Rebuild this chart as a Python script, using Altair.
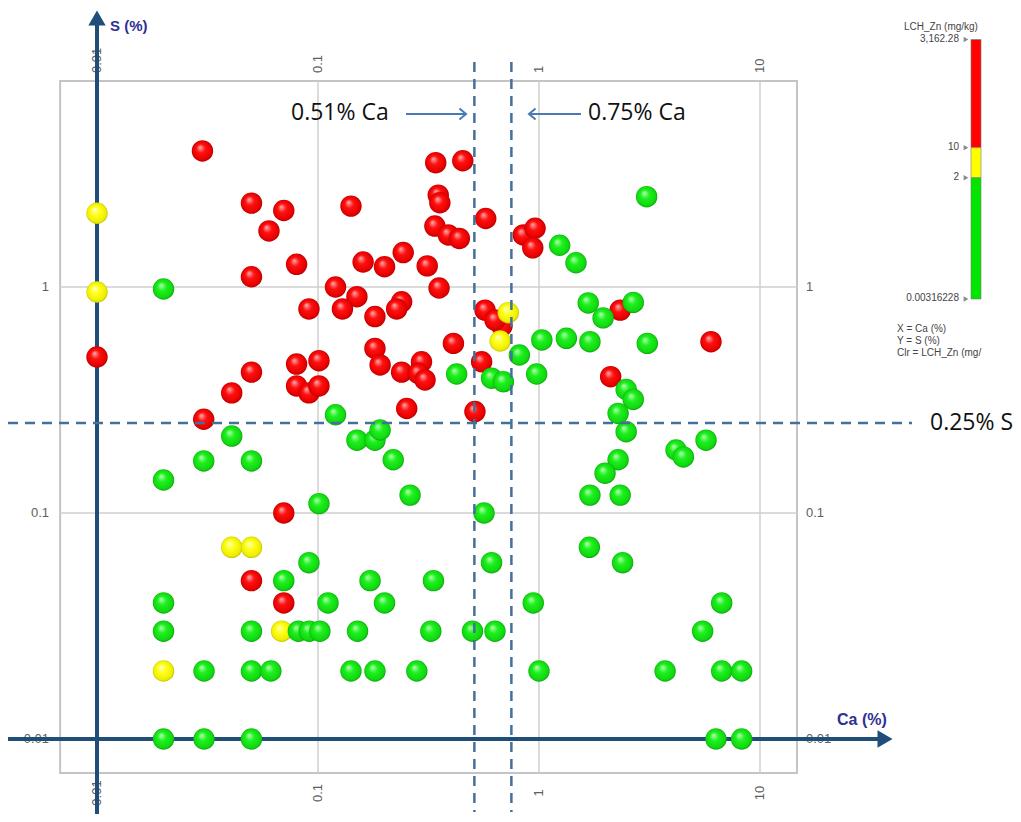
import altair as alt
import pandas as pd

# ---------------- data (Ca %, S %) by LCH_Zn class ----------------
RED_CA = [0.030, 0.050, 0.070, 0.060, 0.141, 0.080, 0.050, 0.160, 0.200, 0.243,
          0.312, 0.120, 0.150, 0.129, 0.091, 0.181, 0.239, 0.227, 0.341, 0.452,
          0.350, 0.356, 0.574, 0.338, 0.389, 0.436, 0.353, 0.849, 0.960, 0.937,
          0.570, 0.680, 0.632, 2.33, 0.410, 0.550, 6.0, 2.11, 0.513, 0.010,
          0.050, 0.0407, 0.0304, 0.070, 0.080, 0.101, 0.080, 0.091, 0.101, 0.181,
          0.191, 0.239, 0.294, 0.284, 0.305, 0.252, 0.050, 0.070]
RED_S = [4.0, 2.35, 2.18, 1.77, 2.28, 1.26, 1.11, 1.29, 1.23, 1.42,
         1.24, 1.00, 0.906, 0.80, 0.80, 0.74, 0.86, 0.80, 3.55, 3.62,
         2.55, 2.36, 2.01, 1.86, 1.70, 1.64, 0.99, 1.70, 1.82, 1.49,
         0.79, 0.672, 0.714, 0.79, 0.563, 0.467, 0.573, 0.401, 0.281, 0.49,
         0.42, 0.34, 0.26, 0.10, 0.456, 0.472, 0.365, 0.34, 0.365, 0.535,
         0.452, 0.42, 0.467, 0.415, 0.388, 0.29, 0.0502, 0.040]

YEL_CA = [0.010, 0.010, 0.726, 0.667, 0.0407, 0.050, 0.0685, 0.020]
YEL_S = [2.12, 0.95, 0.77, 0.577, 0.0705, 0.0705, 0.030, 0.020]

GRN_CA = [0.020, 1.24, 1.47, 3.07, 1.67, 2.67, 1.95, 0.424, 0.61, 0.69,
          0.815, 0.976, 1.03, 1.33, 1.70, 3.09, 2.48, 2.67, 2.28, 2.48,
          2.28, 1.99, 1.70, 2.33, 4.17, 4.50, 5.70, 0.564, 0.0407, 0.0304,
          0.050, 0.020, 0.101, 0.120, 0.150, 0.181, 0.191, 0.219, 0.261, 0.091,
          0.070, 0.172, 0.333, 0.020, 0.111, 0.200, 0.020, 0.050, 0.0815, 0.0914,
          0.102, 0.151, 0.324, 0.0305, 0.050, 0.0612, 0.141, 0.181, 0.280, 0.020,
          0.0305, 0.050, 1.69, 2.39, 0.61, 0.942, 6.71, 5.50, 0.50, 0.632,
          1.00, 3.72, 6.71, 8.26, 6.32, 8.26]
GRN_S = [0.98, 1.53, 1.28, 2.51, 0.85, 0.855, 0.73, 0.412, 0.395, 0.381,
         0.50, 0.412, 0.583, 0.593, 0.573, 0.563, 0.352, 0.318, 0.276, 0.229,
         0.172, 0.15, 0.12, 0.12, 0.19, 0.177, 0.21, 0.10, 0.219, 0.17,
         0.17, 0.14, 0.11, 0.272, 0.21, 0.21, 0.233, 0.172, 0.12, 0.0603,
         0.0502, 0.0502, 0.0502, 0.040, 0.040, 0.040, 0.030, 0.030, 0.030, 0.030,
         0.030, 0.030, 0.030, 0.020, 0.020, 0.020, 0.020, 0.020, 0.020, 0.010,
         0.010, 0.010, 0.0705, 0.0603, 0.0603, 0.040, 0.040, 0.030, 0.030, 0.030,
         0.020, 0.020, 0.020, 0.020, 0.010, 0.010]

X_TICKS = [0.01, 0.1, 1, 10]
X_TICK_LABELS = ["0.01", "0.1", "1", "10"]
Y_TICKS = [0.01, 0.1, 1]
Y_TICK_LABELS = ["0.01", "0.1", "1"]
X_GRID = [0.1, 1, 10]
Y_GRID = [0.1, 1]
FRAME_X = [0.00681, 14.7]
FRAME_Y = [0.00707, 8.16]
CA_THRESHOLDS = [0.51, 0.75]
S_THRESHOLD = 0.25

LEG_LO = [10, 2, 0.00316228]
LEG_HI = [3162.28, 10, 2]
LEG_CLASS = ["high", "mid", "low"]
LEG_TICKS = [3162.28, 10, 2, 0.00316228]
LEG_TICK_LABELS = ["3,162.28", "10", "2", "0.00316228"]

# ---------------- styling ----------------
BLUE = "#1f4e79"
DASH = "#44709a"
ARROW = "#4a7ab5"
TITLE_BLUE = "#2e3192"
GRID = "#cfcfcf"
LABEL = "#5e5e5e"

XS = alt.Scale(type="log", domain=[0.01, 10], range=[89, 752], nice=False)
YS = alt.Scale(type="log", domain=[0.01, 1], range=[731, 279], nice=False)


def X(field=None, datum=None):
    if datum is not None:
        return alt.X(datum=datum, type="quantitative", scale=XS, axis=None)
    return alt.X(field, type="quantitative", scale=XS, axis=None)


def Y(field=None, datum=None):
    if datum is not None:
        return alt.Y(datum=datum, type="quantitative", scale=YS, axis=None)
    return alt.Y(field, type="quantitative", scale=YS, axis=None)


def sphere(c0, c1, c2, c3):
    return alt.RadialGradient(
        gradient="radial",
        stops=[alt.GradientStop(color=c0, offset=0.0),
               alt.GradientStop(color=c1, offset=0.4),
               alt.GradientStop(color=c2, offset=0.85),
               alt.GradientStop(color=c3, offset=1.0)],
        x1=0.38, y1=0.32, r1=0.0, x2=0.5, y2=0.5, r2=0.52)


# ---------------- frame & grid ----------------
frame_df = pd.DataFrame({"x0": [FRAME_X[0]], "x1": [FRAME_X[1]],
                         "y0": [FRAME_Y[0]], "y1": [FRAME_Y[1]]})
frame = alt.Chart(frame_df).mark_rect(fill="white", stroke="#c4c4c4", strokeWidth=2).encode(
    x=X("x0"), x2="x1", y=Y("y0"), y2="y1")

xgrid_df = pd.DataFrame({"v": X_GRID, "lo": FRAME_Y[0], "hi": FRAME_Y[1]})
xgrid = alt.Chart(xgrid_df).mark_rule(color=GRID, strokeWidth=1.5).encode(
    x=X("v"), y=Y("lo"), y2="hi")
ygrid_df = pd.DataFrame({"v": Y_GRID, "lo": FRAME_X[0], "hi": FRAME_X[1]})
ygrid = alt.Chart(ygrid_df).mark_rule(color=GRID, strokeWidth=1.5).encode(
    y=Y("v"), x=X("lo"), x2="hi")

# ---------------- tick labels ----------------
xt_df = pd.DataFrame({"v": X_TICKS, "t": X_TICK_LABELS})
yt_df = pd.DataFrame({"v": Y_TICKS, "t": Y_TICK_LABELS})
tick_font = dict(font="Liberation Sans", fontSize=13, color=LABEL)
top_lab = alt.Chart(xt_df).mark_text(angle=270, align="left", baseline="middle", **tick_font).encode(
    x=X("v"), y=alt.value(65), text="t:N")
bot_lab = alt.Chart(xt_df).mark_text(angle=270, align="center", baseline="middle", **tick_font).encode(
    x=X("v"), y=alt.value(785), text="t:N")
left_lab = alt.Chart(yt_df).mark_text(align="right", baseline="middle", **tick_font).encode(
    y=Y("v"), x=alt.value(41), text="t:N")
right_lab = alt.Chart(yt_df).mark_text(align="left", baseline="middle", **tick_font).encode(
    y=Y("v"), x=alt.value(798), text="t:N")

# ---------------- blue axes ----------------
vaxis = alt.Chart().mark_rule(color=BLUE, strokeWidth=4).encode(
    x=X(datum=0.01), y=alt.value(14), y2=alt.value(815))
haxis = alt.Chart().mark_rule(color=BLUE, strokeWidth=4).encode(
    y=Y(datum=0.01), x=alt.value(0), x2=alt.value(872))
vhead = alt.Chart().mark_point(shape="triangle-up", filled=True, color=BLUE, opacity=1, size=300).encode(
    x=X(datum=0.01), y=alt.value(10))
hhead = alt.Chart().mark_point(shape="triangle-right", filled=True, color=BLUE, opacity=1, size=300).encode(
    y=Y(datum=0.01), x=alt.value(877))
title_font = dict(font="Liberation Sans", fontWeight="bold", color=TITLE_BLUE)
s_title = alt.Chart().mark_text(align="left", baseline="middle", fontSize=15, **title_font).encode(
    x=alt.value(102), y=alt.value(18), text=alt.value("S (%)"))
ca_title = alt.Chart().mark_text(align="left", baseline="middle", fontSize=16, **title_font).encode(
    x=alt.value(829), y=alt.value(712), text=alt.value("Ca (%)"))

# ---------------- points ----------------
red_df = pd.DataFrame({"ca": RED_CA, "s": RED_S})
yel_df = pd.DataFrame({"ca": YEL_CA, "s": YEL_S})
grn_df = pd.DataFrame({"ca": GRN_CA, "s": GRN_S})
PT = 460
red_pts = alt.Chart(red_df).mark_circle(size=PT, opacity=1, strokeWidth=0,
                                        fill=sphere("#ffb0b0", "#ff1010", "#e60000", "#a80000")).encode(
    x=X("ca"), y=Y("s"))
yel_pts = alt.Chart(yel_df).mark_circle(size=PT, opacity=1, strokeWidth=0,
                                        fill=sphere("#ffffd0", "#ffff1a", "#eeee00", "#b5b500")).encode(
    x=X("ca"), y=Y("s"))
grn_pts = alt.Chart(grn_df).mark_circle(size=PT, opacity=1, strokeWidth=0,
                                        fill=sphere("#b8ffb8", "#1ef01e", "#10d810", "#089808")).encode(
    x=X("ca"), y=Y("s"))

# ---------------- threshold lines & annotations ----------------
vthr_df = pd.DataFrame({"v": CA_THRESHOLDS})
vthr = alt.Chart(vthr_df).mark_rule(color=DASH, strokeWidth=2.5, strokeDash=[10, 7]).encode(
    x=X("v"), y=alt.value(54), y2=alt.value(804))
hthr = alt.Chart().mark_rule(color=DASH, strokeWidth=2.5, strokeDash=[10, 7]).encode(
    y=Y(datum=S_THRESHOLD), x=alt.value(0), x2=alt.value(904))

ann_font = dict(font="Open Sans", fontSize=23, color="#111111")
ann1 = alt.Chart().mark_text(align="left", baseline="middle", **ann_font).encode(
    x=alt.value(283), y=alt.value(105), text=alt.value("0.51% Ca"))
ann2 = alt.Chart().mark_text(align="left", baseline="middle", **ann_font).encode(
    x=alt.value(580), y=alt.value(105), text=alt.value("0.75% Ca"))
ann3 = alt.Chart().mark_text(align="left", baseline="middle", **ann_font).encode(
    x=alt.value(922), y=Y(datum=S_THRESHOLD), text=alt.value("0.25% S"))
arr1 = alt.Chart().mark_rule(color=ARROW, strokeWidth=2).encode(
    x=alt.value(398), x2=alt.value(458), y=alt.value(106))
arr2 = alt.Chart().mark_rule(color=ARROW, strokeWidth=2).encode(
    x=alt.value(521), x2=alt.value(573), y=alt.value(106))
head1 = alt.Chart().mark_point(shape="M-1.2,-1L0,0L-1.2,1", filled=False, color=ARROW,
                               strokeWidth=2, opacity=1, size=120).encode(
    x=alt.value(458), y=alt.value(106))
head2 = alt.Chart().mark_point(shape="M1.2,-1L0,0L1.2,1", filled=False, color=ARROW,
                               strokeWidth=2, opacity=1, size=120).encode(
    x=alt.value(521), y=alt.value(106))

main = alt.layer(frame, xgrid, ygrid, top_lab, bot_lab, left_lab, right_lab,
                 vaxis, haxis, vhead, hhead, s_title, ca_title,
                 red_pts, yel_pts, grn_pts,
                 vthr, hthr, arr1, arr2, head1, head2, ann1, ann2, ann3)

# ---------------- colour legend ----------------
LS = alt.Scale(type="log", domain=[0.00316228, 3162.28], range=[291, 31.5], nice=False)
leg_df = pd.DataFrame({"lo": LEG_LO, "hi": LEG_HI, "cls": LEG_CLASS})
leg_bar = alt.Chart(leg_df).mark_rect(stroke="#7a7a7a", strokeWidth=0.6).encode(
    y=alt.Y("lo:Q", scale=LS, axis=None), y2="hi:Q",
    x=alt.value(963), x2=alt.value(973),
    color=alt.Color("cls:N", scale=alt.Scale(domain=["high", "mid", "low"],
                                             range=["#ff0000", "#ffff00", "#00e600"]), legend=None))
lt_df = pd.DataFrame({"v": LEG_TICKS, "t": LEG_TICK_LABELS})
leg_tri = alt.Chart(lt_df).mark_point(shape="triangle-right", filled=True, color="#8a8a8a",
                                      opacity=1, size=30).encode(
    y=alt.Y("v:Q", scale=LS, axis=None), x=alt.value(958))
leg_lab = alt.Chart(lt_df).mark_text(align="right", baseline="middle", font="Liberation Sans",
                                     fontSize=10, color="#444444", dy=-1).encode(
    y=alt.Y("v:Q", scale=LS, axis=None), x=alt.value(951), text="t:N")
leg_font = dict(font="Liberation Sans", fontSize=10, color="#444444")
leg_title = alt.Chart().mark_text(align="center", baseline="middle", **leg_font).encode(
    x=alt.value(933), y=alt.value(19), text=alt.value("LCH_Zn (mg/kg)"))
leg_x = alt.Chart().mark_text(align="left", baseline="middle", **leg_font).encode(
    x=alt.value(889), y=alt.value(321), text=alt.value("X = Ca (%)"))
leg_y = alt.Chart().mark_text(align="left", baseline="middle", **leg_font).encode(
    x=alt.value(889), y=alt.value(333), text=alt.value("Y = S (%)"))
leg_c = alt.Chart().mark_text(align="left", baseline="middle", **leg_font).encode(
    x=alt.value(889), y=alt.value(345), text=alt.value("Clr = LCH_Zn (mg/"))

legend = alt.layer(leg_bar, leg_tri, leg_lab, leg_title, leg_x, leg_y, leg_c)

chart = alt.layer(main, legend).resolve_scale(
    x="independent", y="independent", color="independent"
).properties(
    width=1005, height=806, padding=0, autosize="none", background="white"
).configure_view(stroke=None)

chart.save("out.html", embed_options={"renderer": "svg", "actions": False})
